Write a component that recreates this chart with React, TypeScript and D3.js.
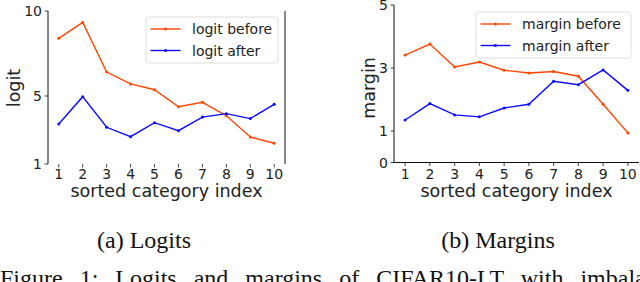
import React from 'react';
import * as d3 from 'd3';

// x categories shared by both panels
const categories = [1, 2, 3, 4, 5, 6, 7, 8, 9, 10];

// (a) logits
const logitBefore = [8.39, 9.33, 6.41, 5.71, 5.37, 4.37, 4.63, 3.84, 2.59, 2.22];
const logitAfter = [3.35, 4.96, 3.16, 2.61, 3.43, 2.96, 3.76, 3.96, 3.67, 4.51];
const logitTicks = [1, 5, 10];

// (b) margins
const marginBefore = [3.41, 3.76, 3.03, 3.19, 2.93, 2.84, 2.89, 2.74, 1.85, 0.94];
const marginAfter = [1.35, 1.87, 1.51, 1.45, 1.73, 1.85, 2.58, 2.47, 2.94, 2.29];
const marginTicks = [0, 1, 3, 5];

const RED = '#ff4500';
const BLUE = '#0a0aff';
const SANS = 'DejaVu Sans, sans-serif';
const SERIF = 'Liberation Serif, Times New Roman, serif';

interface PanelProps {
  x0: number;
  x1: number;
  yDomain: [number, number];
  yTop: number;
  yBottom: number;
  yTicks: number[];
  yLabel: string;
  yLabelX: number;
  before: number[];
  after: number[];
  names: [string, string];
  legend: { x: number; y: number; w: number; h: number };
  bottomSpine: boolean;
  rightSpine: boolean;
}

const Panel: React.FC<PanelProps> = (p) => {
  const x = d3.scaleLinear().domain([0.55, 10.45]).range([p.x0, p.x1]);
  const y = d3.scaleLinear().domain(p.yDomain).range([p.yBottom, p.yTop]);
  const line = d3.line<number>()
    .x((_, i) => x(categories[i]))
    .y(d => y(d));

  const series = [
    { vals: p.before, color: RED, name: p.names[0] },
    { vals: p.after, color: BLUE, name: p.names[1] }
  ];
  const lg = p.legend;

  return (
    <g>
      {/* spines */}
      <line x1={p.x0} x2={p.x0} y1={p.yTop} y2={p.yBottom} stroke="#111" strokeWidth={1} />
      {p.rightSpine && (
        <line x1={p.x1} x2={p.x1} y1={p.yTop} y2={p.yBottom} stroke="#111" strokeWidth={1} />
      )}
      {p.bottomSpine && (
        <line x1={p.x0} x2={p.x1} y1={p.yBottom} y2={p.yBottom} stroke="#111" strokeWidth={1} />
      )}

      {/* y ticks */}
      {p.yTicks.map(t => (
        <g key={'y' + t}>
          <line x1={p.x0 - 3.5} x2={p.x0} y1={y(t)} y2={y(t)} stroke="#111" strokeWidth={0.8} />
          <text x={p.x0 - 6} y={y(t)} dy="0.36em" textAnchor="end"
            fontFamily={SANS} fontSize={14} fill="#222">{t}</text>
        </g>
      ))}

      {/* x ticks */}
      {categories.map(c => (
        <g key={'x' + c}>
          <line x1={x(c)} x2={x(c)} y1={p.yBottom} y2={p.yBottom + 3.5} stroke="#111" strokeWidth={0.8} />
          <text x={x(c)} y={179} textAnchor="middle"
            fontFamily={SANS} fontSize={14} fill="#222">{c}</text>
        </g>
      ))}

      <text x={(p.x0 + p.x1) / 2} y={197} textAnchor="middle"
        fontFamily={SANS} fontSize={17.5} fill="#222">sorted category index</text>
      <text transform={`translate(${p.yLabelX},88) rotate(-90)`} textAnchor="middle" dy="0.36em"
        fontFamily={SANS} fontSize={17.5} fill="#222">{p.yLabel}</text>

      {/* series */}
      {series.map(s => (
        <g key={s.name}>
          <path d={line(s.vals) || ''} fill="none" stroke={s.color} strokeWidth={1.4} />
          {s.vals.map((v, i) => (
            <circle key={i} cx={x(categories[i])} cy={y(v)} r={1.5} fill={s.color} />
          ))}
        </g>
      ))}

      {/* legend */}
      <rect x={lg.x} y={lg.y} width={lg.w} height={lg.h} rx={3} fill="white" fillOpacity={0.8}
        stroke="#d6d6d6" strokeWidth={0.8} />
      {series.map((s, i) => {
        const ly = lg.y + 12 + i * 21.5;
        return (
          <g key={'lg' + s.name}>
            <line x1={lg.x + 4.5} x2={lg.x + 34.5} y1={ly} y2={ly} stroke={s.color} strokeWidth={1.4} />
            <circle cx={lg.x + 19.5} cy={ly} r={1.5} fill={s.color} />
            <text x={lg.x + 46} y={ly} dy="0.36em" fontFamily={SANS} fontSize={14} fill="#222">{s.name}</text>
          </g>
        );
      })}
    </g>
  );
};

const App: React.FC = () => {
  return (
    <svg width={640} height={282} style={{ position: 'absolute', left: 0, top: 0, background: 'white' }}>
      <Panel x0={48} x1={285} yDomain={[1, 10]} yTop={11} yBottom={164} yTicks={logitTicks}
        yLabel="logit" yLabelX={13.5} before={logitBefore} after={logitAfter}
        names={['logit before', 'logit after']}
        legend={{ x: 146, y: 17, w: 132, h: 46 }} bottomSpine={false} rightSpine={true} />
      <Panel x0={394} x1={639} yDomain={[0, 5]} yTop={5} yBottom={162.5} yTicks={marginTicks}
        yLabel="margin" yLabelX={369} before={marginBefore} after={marginAfter}
        names={['margin before', 'margin after']}
        legend={{ x: 476, y: 12, w: 155, h: 46 }} bottomSpine={true} rightSpine={false} />

      <text x={144} y={248} textAnchor="middle" fontFamily={SERIF} fontSize={24} fill="#111">(a) Logits</text>
      <text x={498} y={248} textAnchor="middle" fontFamily={SERIF} fontSize={24} fill="#111">(b) Margins</text>
      <text x={0} y={286} fontFamily={SERIF} fontSize={24} fill="#111" wordSpacing={11}>
        Figure 1: Logits and margins of CIFAR10-LT with imbalance
      </text>
    </svg>
  );
};

export default App;
